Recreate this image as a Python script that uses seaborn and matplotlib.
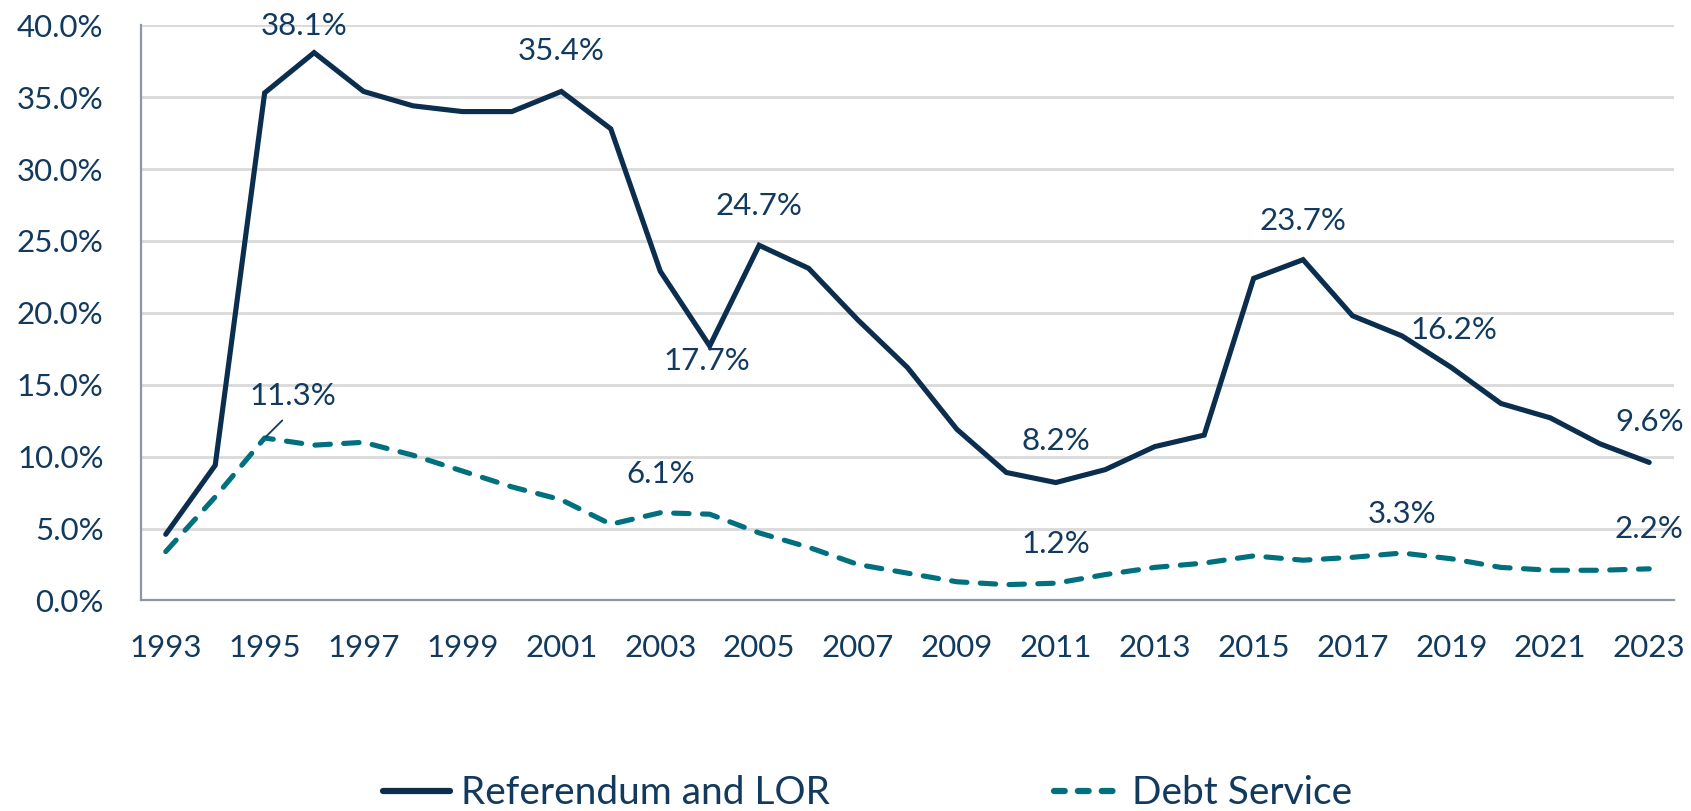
import matplotlib
matplotlib.use("Agg")
import matplotlib.pyplot as plt
import matplotlib.ticker as mticker
import numpy as np
import pandas as pd
import seaborn as sns

# Share of revenue by year, in percent
years = list(range(1993, 2024))
referendum_lor = [4.6, 9.4, 35.3, 38.1, 35.4, 34.4, 34.0, 34.0, 35.4, 32.8,
                  22.9, 17.7, 24.7, 23.1, 19.5, 16.2, 11.9, 8.9, 8.2, 9.1,
                  10.7, 11.5, 22.4, 23.7, 19.8, 18.4, 16.2, 13.7, 12.7, 10.9, 9.6]
debt_service = [3.4, 7.2, 11.3, 10.8, 11.0, 10.1, 9.0, 7.9, 7.0, 5.3,
                6.1, 6.0, 4.7, 3.7, 2.5, 1.9, 1.3, 1.1, 1.2, 1.8,
                2.3, 2.6, 3.1, 2.8, 3.0, 3.3, 2.9, 2.3, 2.1, 2.1, 2.2]
series_names = ["Referendum and LOR", "Debt Service"]

# Years whose values are printed on the chart
labeled_ref = [1996, 2001, 2004, 2005, 2011, 2016, 2019, 2023]
labeled_debt = [1995, 2003, 2011, 2018, 2023]

NAVY = "#0B2E4F"
TEAL = "#00707F"
TEXT = "#123A5E"
AXIS = "#8E96A8"
GRID = "#D9D9D9"

sns.set_theme(style="white")
plt.rcParams["font.family"] = ["Lato", "DejaVu Sans"]

df = pd.DataFrame({
    "year": years * 2,
    "value": referendum_lor + debt_service,
    "series": [series_names[0]] * len(years) + [series_names[1]] * len(years),
})

fig = plt.figure(figsize=(16.91, 8.11), dpi=100)
ax = fig.add_axes([0.0834, 0.2596, 0.9065, 0.7092])

sns.lineplot(data=df, x="year", y="value", hue="series", style="series",
             palette={series_names[0]: NAVY, series_names[1]: TEAL},
             dashes={series_names[0]: "", series_names[1]: (3.0, 2.6)},
             linewidth=3.7, ax=ax, legend=True, sort=False)
for line in ax.lines:
    line.set_solid_capstyle("round")
    line.set_dash_capstyle("round")
    line.set_solid_joinstyle("miter")

ax.set_xlim(years[0] - 0.5, years[-1] + 0.5)
ax.set_ylim(0, 40)
ax.yaxis.set_major_locator(mticker.MultipleLocator(5))
ax.yaxis.set_major_formatter(mticker.PercentFormatter(xmax=100, decimals=1))
ax.grid(axis="y", color=GRID, linewidth=2)
ax.set_axisbelow(True)

# Category-style x axis: ticks on the boundaries, labels on every other year
ax.xaxis.set_major_locator(mticker.FixedLocator(np.arange(years[0] - 0.5, years[-1] + 1, 1)))
ax.xaxis.set_major_formatter(mticker.NullFormatter())
ax.xaxis.set_minor_locator(mticker.FixedLocator(years[::2]))
ax.xaxis.set_minor_formatter(mticker.FixedFormatter([str(y) for y in years[::2]]))
ax.tick_params(axis="x", which="major", length=8, width=1.6, color=AXIS, direction="out")
ax.tick_params(axis="x", which="minor", length=0, pad=24, labelsize=22.5, labelcolor=TEXT)
ax.tick_params(axis="y", which="major", length=9, width=1.6, color=AXIS, direction="out",
               pad=18, labelsize=22.5, labelcolor=TEXT)
ax.set_xlabel("")
ax.set_ylabel("")

for side in ["top", "right"]:
    ax.spines[side].set_visible(False)
for side in ["left", "bottom"]:
    ax.spines[side].set_color(AXIS)
    ax.spines[side].set_linewidth(1.6)

# Value labels (offsets in points relative to the data point)
ref_offsets = {1996: (-7, 19), 2001: (0, 29), 2004: (-2, -11), 2005: (0, 28),
               2011: (0, 30), 2016: (0, 28), 2019: (2, 27), 2023: (0, 29)}
debt_offsets = {1995: (20, 30), 2003: (0, 28), 2011: (0, 28), 2018: (0, 28), 2023: (0, 29)}

for yr in labeled_ref:
    v = referendum_lor[years.index(yr)]
    ax.annotate(f"{v:.1f}%", xy=(yr, v), xytext=ref_offsets[yr], textcoords="offset points",
                ha="center", va="center", fontsize=22.5, color=TEXT)
for yr in labeled_debt:
    v = debt_service[years.index(yr)]
    kw = {}
    if yr == 1995:
        kw["arrowprops"] = dict(arrowstyle="-", color=TEXT, lw=1.3,
                                relpos=(0.5, 0.0), shrinkA=7, shrinkB=1)
    ax.annotate(f"{v:.1f}%", xy=(yr, v), xytext=debt_offsets[yr], textcoords="offset points",
                ha="center", va="center", fontsize=22.5, color=TEXT, **kw)

handles, labels = ax.get_legend_handles_labels()
ax.get_legend().remove()
leg = fig.legend(handles, labels, loc="center", bbox_to_anchor=(0.513, 0.022),
                 ncol=2, frameon=False, fontsize=28, handlelength=1.72,
                 handletextpad=0.28, columnspacing=5.77)
for t in leg.get_texts():
    t.set_color(TEXT)
for h, name in zip(leg.get_lines(), labels):
    h.set_linewidth(4.5)
    h.set_solid_capstyle("round")
    h.set_dash_capstyle("round")
    if name == series_names[1]:
        h.set_linestyle((0, (1.72, 2.1)))

fig.savefig("out.png", dpi=100)
